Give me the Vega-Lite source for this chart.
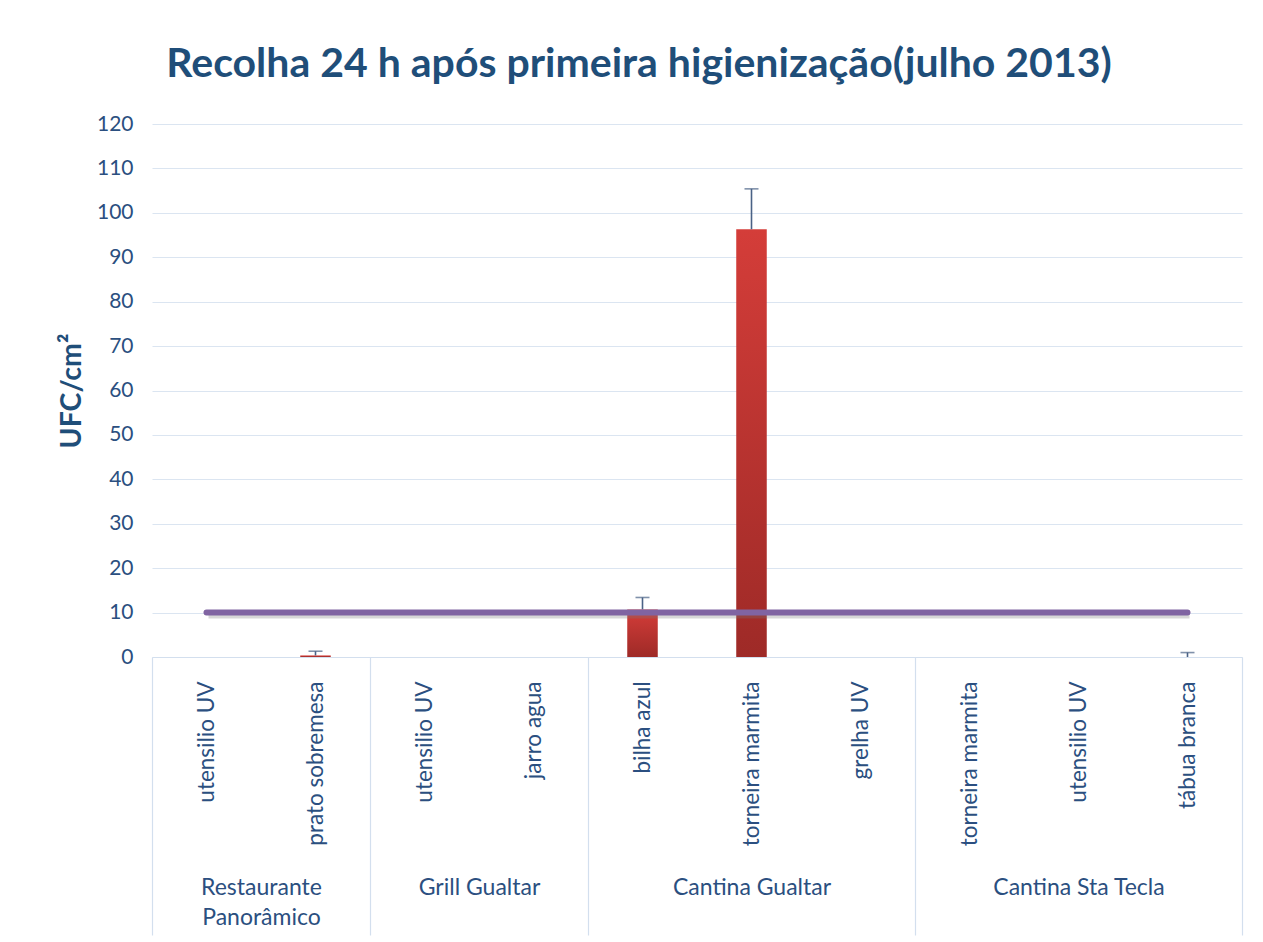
{
  "$schema": "https://vega.github.io/schema/vega-lite/v6.json",
  "width": 1090,
  "height": 533,
  "autosize": {"type": "none"},
  "padding": {"left": 152, "top": 124, "right": 21, "bottom": 285},
  "background": "white",
  "title": {
    "text": "Recolha 24 h após primeira higienização(julho 2013)",
    "font": "Lato",
    "fontSize": 41,
    "fontWeight": "bold",
    "color": "#1f4e79",
    "anchor": "middle",
    "dx": -58,
    "offset": 27
  },
  "config": {"view": {"stroke": null}, "font": "Lato"},
  "datasets": {
    "items": [
      {"group": "Restaurante Panorâmico", "item": "utensilio UV", "key": "Restaurante Panorâmico|utensilio UV", "value": 0, "err": null, "limite": 10},
      {"group": "Restaurante Panorâmico", "item": "prato sobremesa", "key": "Restaurante Panorâmico|prato sobremesa", "value": 0.35, "err": 1.3, "limite": 10},
      {"group": "Grill Gualtar", "item": "utensilio UV", "key": "Grill Gualtar|utensilio UV", "value": 0, "err": null, "limite": 10},
      {"group": "Grill Gualtar", "item": "jarro agua", "key": "Grill Gualtar|jarro agua", "value": 0, "err": null, "limite": 10},
      {"group": "Cantina Gualtar", "item": "bilha azul", "key": "Cantina Gualtar|bilha azul", "value": 10.7, "err": 13.4, "limite": 10},
      {"group": "Cantina Gualtar", "item": "torneira marmita", "key": "Cantina Gualtar|torneira marmita", "value": 96.3, "err": 105.4, "limite": 10},
      {"group": "Cantina Gualtar", "item": "grelha UV", "key": "Cantina Gualtar|grelha UV", "value": 0, "err": null, "limite": 10},
      {"group": "Cantina Sta Tecla", "item": "torneira marmita", "key": "Cantina Sta Tecla|torneira marmita", "value": 0, "err": null, "limite": 10},
      {"group": "Cantina Sta Tecla", "item": "utensilio UV", "key": "Cantina Sta Tecla|utensilio UV", "value": 0, "err": null, "limite": 10},
      {"group": "Cantina Sta Tecla", "item": "tábua branca", "key": "Cantina Sta Tecla|tábua branca", "value": 0, "err": 1.0, "limite": 10}
    ],
    "groups": [
      {"group": "Restaurante Panorâmico", "first": 0, "last": 2},
      {"group": "Grill Gualtar", "first": 2, "last": 4},
      {"group": "Cantina Gualtar", "first": 4, "last": 7},
      {"group": "Cantina Sta Tecla", "first": 7, "last": 10}
    ]
  },
  "layer": [
    {
      "data": {"name": "items"},
      "encoding": {
        "x": {
          "field": "key",
          "type": "nominal",
          "sort": null,
          "scale": {"paddingInner": 0, "paddingOuter": 0},
          "axis": {
            "orient": "bottom",
            "title": null,
            "labelExpr": "split(datum.label, '|')[1]",
            "labelAngle": -90,
            "labelFont": "Lato",
            "labelFontSize": 22.5,
            "labelColor": "#2b4f80",
            "labelPadding": 24,
            "labelLimit": 0,
            "ticks": false,
            "domain": true,
            "domainColor": "#d3dfee",
            "grid": false
          }
        }
      },
      "layer": [
        {
          "mark": {
            "type": "bar",
            "width": {"band": 0.28},
            "color": {
              "gradient": "linear",
              "x1": 0, "y1": 0, "x2": 0, "y2": 1,
              "stops": [
                {"offset": 0, "color": "#d43d39"},
                {"offset": 1, "color": "#9e2a27"}
              ]
            }
          },
          "encoding": {
            "y": {
              "field": "value",
              "type": "quantitative",
              "scale": {"domain": [0, 120], "nice": false},
              "axis": {
                "title": "UFC/cm²",
                "titleFont": "Lato",
                "titleFontSize": 28.5,
                "titleFontWeight": "bold",
                "titleColor": "#1f4e79",
                "titlePadding": 10,
                "values": [0, 10, 20, 30, 40, 50, 60, 70, 80, 90, 100, 110, 120],
                "labelFont": "Lato",
                "labelFontSize": 21,
                "labelColor": "#2b4f80",
                "labelPadding": 19,
                "ticks": false,
                "domain": false,
                "gridColor": "#dbe5f1",
                "gridWidth": 1.2
              }
            }
          }
        },
        {
          "transform": [{"filter": "isValid(datum.err)"}],
          "mark": {"type": "rule", "color": "#4a6286", "strokeWidth": 1.6},
          "encoding": {
            "y": {"field": "value", "type": "quantitative"},
            "y2": {"field": "err"}
          }
        },
        {
          "transform": [{"filter": "isValid(datum.err)"}],
          "mark": {"type": "tick", "color": "#4a6286", "size": 14, "thickness": 1.6},
          "encoding": {
            "y": {"field": "err", "type": "quantitative"}
          }
        },
        {
          "mark": {"type": "line", "color": "#7a7a7a", "opacity": 0.3, "strokeWidth": 6, "yOffset": 3, "xOffset": 2},
          "encoding": {
            "y": {"field": "limite", "type": "quantitative"}
          }
        },
        {
          "mark": {"type": "line", "color": "#8064a2", "strokeWidth": 6, "strokeCap": "round"},
          "encoding": {
            "y": {"field": "limite", "type": "quantitative"}
          }
        }
      ]
    },
    {
      "data": {"name": "groups"},
      "mark": {"type": "rule", "opacity": 0},
      "encoding": {
        "x": {
          "field": "first",
          "type": "quantitative",
          "scale": {"domain": [0, 10], "nice": false, "zero": false},
          "axis": {
            "orient": "bottom",
            "title": null,
            "values": [0, 2, 4, 7, 10],
            "labels": false,
            "domain": false,
            "grid": false,
            "ticks": true,
            "tickSize": 278,
            "tickColor": "#d3dfee",
            "tickWidth": 1.2
          }
        }
      }
    },
    {
      "data": {"name": "groups"},
      "mark": {"type": "rule", "opacity": 0},
      "encoding": {
        "x": {
          "field": "last",
          "type": "quantitative",
          "scale": {"domain": [0, 10], "nice": false, "zero": false},
          "axis": {
            "orient": "bottom",
            "title": null,
            "values": [1, 3, 5.5, 8.5],
            "labelExpr": "datum.value == 1 ? ['Restaurante', 'Panorâmico'] : datum.value == 3 ? 'Grill Gualtar' : datum.value == 5.5 ? 'Cantina Gualtar' : 'Cantina Sta Tecla'",
            "labelFont": "Lato",
            "labelFontSize": 23,
            "labelColor": "#2b4f80",
            "labelLineHeight": 30,
            "labelPadding": 219,
            "labelBaseline": "top",
            "labelAngle": 0,
            "domain": false,
            "grid": false,
            "ticks": false
          }
        }
      }
    }
  ],
  "resolve": {"scale": {"x": "independent"}, "axis": {"x": "independent"}}
}
